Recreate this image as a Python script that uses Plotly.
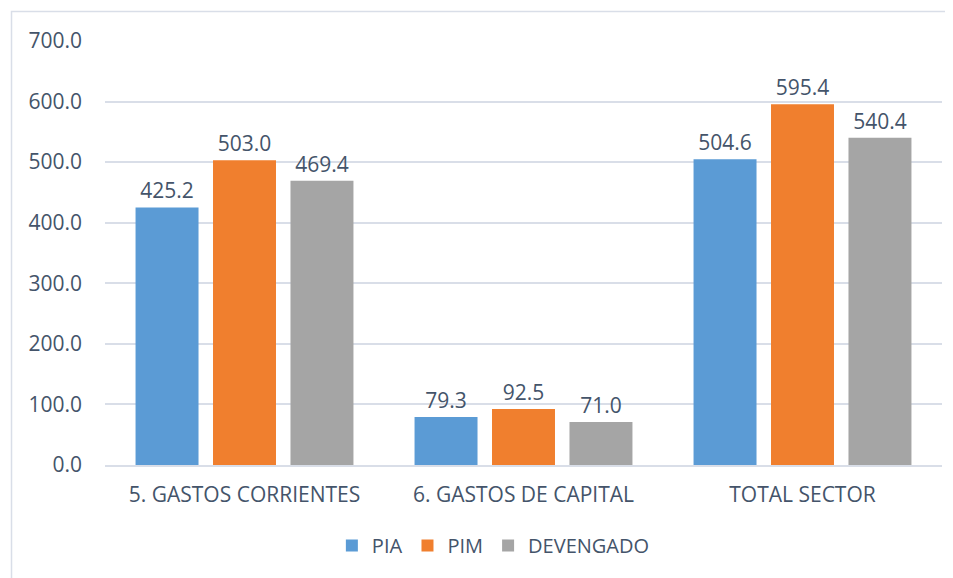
import plotly.graph_objects as go

categories = ["5. GASTOS CORRIENTES", "6. GASTOS DE CAPITAL", "TOTAL SECTOR"]
pia = [425.2, 79.3, 504.6]
pim = [503.0, 92.5, 595.4]
devengado = [469.4, 71.0, 540.4]
series_names = ["PIA", "PIM", "DEVENGADO"]
colors = ["#5B9BD5", "#F07F2E", "#A5A5A5"]
y_ticks = [0, 100, 200, 300, 400, 500, 600, 700]

text_color = "#44546A"
font_family = "Open Sans, Liberation Sans, sans-serif"

fig = go.Figure()
for name, vals, col in zip(series_names, [pia, pim, devengado], colors):
    fig.add_trace(go.Bar(
        x=categories, y=vals, name=name,
        marker=dict(color=col, line=dict(width=0)),
        text=[f"{v:.1f}" for v in vals],
        textposition="outside",
        textfont=dict(size=21, color=text_color, family=font_family),
        cliponaxis=False,
    ))

fig.update_layout(
    width=953, height=578,
    margin=dict(l=97, r=19, t=33, b=121),
    paper_bgcolor="white", plot_bgcolor="white",
    barmode="group", bargap=0.167, bargroupgap=0.187,
    font=dict(family=font_family, size=21, color=text_color),
    legend=dict(orientation="h", x=0.464, xanchor="center", y=-0.19, yanchor="middle",
                font=dict(size=20, color=text_color), itemwidth=30, traceorder="normal"),
    showlegend=True,
)
fig.update_yaxes(range=[0, 700], tickvals=y_ticks, ticktext=[f"{v:.1f}" for v in y_ticks],
                 showgrid=True, gridcolor="#D9DEE8", gridwidth=1.5, zeroline=False,
                 showline=False, ticks="", ticklabelstandoff=22,
                 tickfont=dict(size=21, color=text_color))
fig.update_xaxes(showgrid=False, showline=True, linecolor="#D9DEE8", linewidth=1.5,
                 ticks="", ticklabelstandoff=10, tickfont=dict(size=21, color=text_color))

fig.add_shape(type="rect", xref="paper", yref="paper",
              x0=-0.1117, x1=1.03, y0=-0.3, y1=1.0696,
              line=dict(color="#D9DEE8", width=1.5), fillcolor="rgba(0,0,0,0)", layer="below")

fig.write_html("out.html")
